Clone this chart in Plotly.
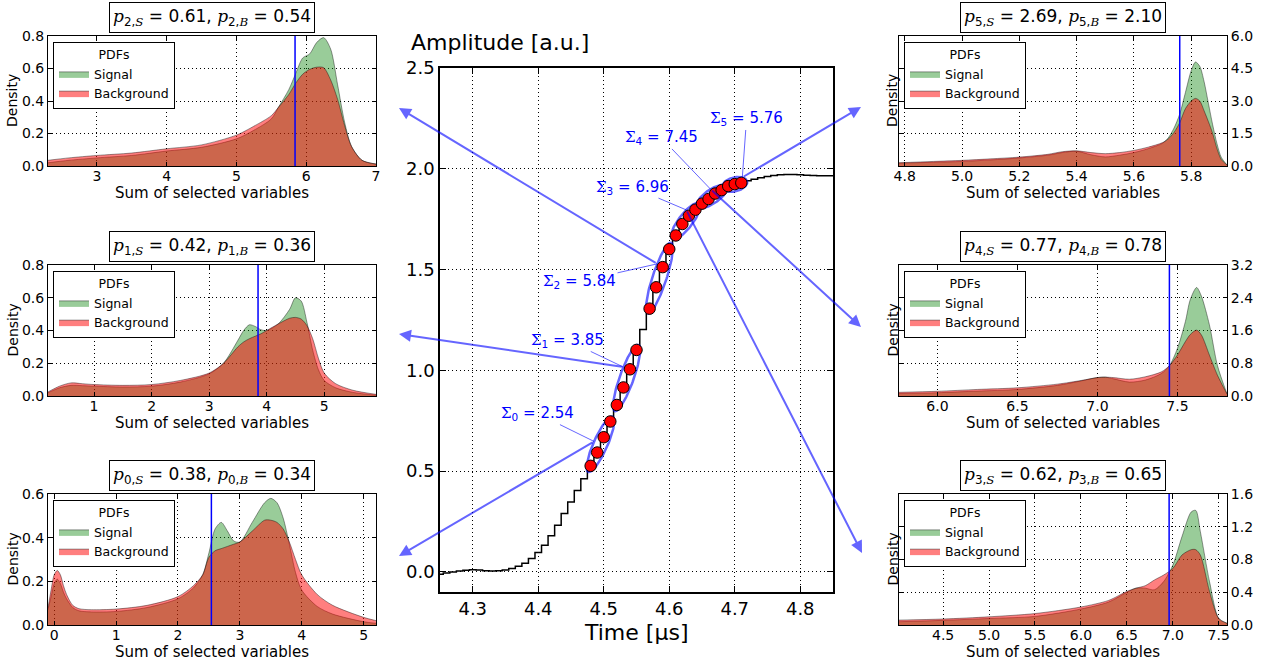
import math
import plotly.graph_objects as go

W, H = 1266, 664
FONT = "DejaVu Sans"

# ---------------- data: waveform (time in µs, amplitude in a.u.) ----------------
time_us = [4.25, 4.26, 4.27, 4.28, 4.29, 4.30, 4.31, 4.32, 4.33, 4.34,
           4.35, 4.36, 4.37, 4.38, 4.39, 4.40, 4.41, 4.42, 4.43, 4.44,
           4.45, 4.46, 4.47, 4.48, 4.49, 4.50, 4.51, 4.52, 4.53, 4.54,
           4.55, 4.56, 4.57, 4.58, 4.59, 4.60, 4.61, 4.62, 4.63, 4.64,
           4.65, 4.66, 4.67, 4.68, 4.69, 4.70, 4.71, 4.72, 4.73, 4.74,
           4.75, 4.76, 4.77, 4.78, 4.79, 4.80, 4.81, 4.82, 4.83, 4.84, 4.85]
amplitude = [-0.012, -0.006, -0.001, 0.004, 0.008, 0.010, 0.009, 0.006, 0.004, 0.005,
             0.009, 0.017, 0.028, 0.043, 0.066, 0.096, 0.132, 0.179, 0.231, 0.289,
             0.347, 0.404, 0.462, 0.526, 0.592, 0.668, 0.746, 0.828, 0.915, 1.005,
             1.101, 1.202, 1.306, 1.412, 1.512, 1.601, 1.669, 1.726, 1.767, 1.797,
             1.827, 1.850, 1.877, 1.894, 1.914, 1.924, 1.930, 1.940, 1.948, 1.956,
             1.962, 1.967, 1.970, 1.972, 1.972, 1.970, 1.968, 1.966, 1.965, 1.965, 1.965]

# selected sample groups and their sums / probabilities
group_times = [[4.48, 4.49, 4.50, 4.51],
               [4.52, 4.53, 4.54, 4.55],
               [4.57, 4.58, 4.59, 4.60],
               [4.61, 4.62, 4.63, 4.64],
               [4.65, 4.66, 4.67, 4.68],
               [4.69, 4.70, 4.71]]
sigma_vals = [2.54, 3.85, 5.84, 6.96, 7.45, 5.76]
p_signal = [0.38, 0.42, 0.61, 0.62, 0.77, 2.69]
p_background = [0.34, 0.36, 0.54, 0.65, 0.78, 2.10]

# ---------------- data: PDFs (sum of selected variables vs density) ----------------
sum0 = [-0.1, -0.05, 0.0, 0.05, 0.1, 0.15, 0.2, 0.3, 0.4, 0.6, 1.0, 1.5, 2.0, 2.25, 2.4, 2.5,
        2.6, 2.7, 2.8, 2.9, 3.0, 3.2, 3.4, 3.5, 3.6, 3.7, 3.8, 3.9, 4.0, 4.25, 4.5, 5.0, 5.2]
sig0 = [0.07, 0.13, 0.19, 0.21, 0.19, 0.15, 0.12, 0.08, 0.065, 0.06, 0.062, 0.08, 0.12, 0.17, 0.23, 0.33,
        0.44, 0.47, 0.43, 0.385, 0.38, 0.47, 0.56, 0.58, 0.56, 0.49, 0.37, 0.24, 0.16, 0.085, 0.05, 0.015, 0.008]
bkg0 = [0.08, 0.16, 0.23, 0.25, 0.23, 0.18, 0.14, 0.09, 0.075, 0.07, 0.073, 0.09, 0.13, 0.18, 0.23, 0.31,
        0.34, 0.35, 0.36, 0.37, 0.38, 0.43, 0.48, 0.48, 0.47, 0.44, 0.38, 0.30, 0.23, 0.14, 0.09, 0.035, 0.02]

sum1 = [0.2, 0.4, 0.6, 0.8, 1.0, 1.5, 2.0, 2.5, 3.0, 3.25, 3.5, 3.6, 3.7, 3.8, 3.9, 4.0,
        4.2, 4.4, 4.5, 4.6, 4.7, 4.8, 4.9, 5.0, 5.2, 5.5, 5.9]
sig1 = [0.02, 0.05, 0.065, 0.063, 0.06, 0.055, 0.06, 0.085, 0.135, 0.2, 0.34, 0.40, 0.435, 0.425, 0.405, 0.40,
        0.44, 0.53, 0.60, 0.58, 0.45, 0.28, 0.16, 0.095, 0.05, 0.022, 0.005]
bkg1 = [0.025, 0.06, 0.08, 0.075, 0.07, 0.065, 0.07, 0.095, 0.14, 0.2, 0.30, 0.33, 0.35, 0.365, 0.38, 0.40,
        0.44, 0.475, 0.48, 0.47, 0.43, 0.35, 0.23, 0.14, 0.075, 0.035, 0.01]

sum2 = [2.3, 2.6, 3.0, 3.5, 4.0, 4.5, 5.0, 5.25, 5.5, 5.6, 5.75, 5.85, 5.95, 6.05, 6.15, 6.25,
        6.35, 6.45, 6.55, 6.65, 6.8, 7.0]
sig2 = [0.02, 0.035, 0.05, 0.065, 0.092, 0.115, 0.167, 0.22, 0.29, 0.36, 0.47, 0.57, 0.665, 0.69, 0.76, 0.79,
        0.72, 0.50, 0.27, 0.12, 0.035, 0.012]
bkg2 = [0.035, 0.05, 0.065, 0.08, 0.106, 0.13, 0.19, 0.245, 0.31, 0.36, 0.44, 0.51, 0.565, 0.595, 0.608, 0.605,
        0.53, 0.41, 0.25, 0.12, 0.035, 0.012]

sum3 = [4.02, 4.5, 5.0, 5.5, 6.0, 6.3, 6.5, 6.6, 6.7, 6.8, 6.9, 7.0, 7.1, 7.2, 7.25, 7.3, 7.4, 7.5, 7.59]
sig3 = [0.04, 0.057, 0.08, 0.105, 0.195, 0.28, 0.40, 0.45, 0.45, 0.43, 0.53, 0.73, 1.08, 1.38, 1.40, 1.14, 0.53, 0.08, 0.02]
bkg3 = [0.06, 0.073, 0.10, 0.14, 0.22, 0.30, 0.41, 0.45, 0.48, 0.55, 0.61, 0.69, 0.855, 0.92, 0.92, 0.855, 0.41, 0.08, 0.02]

sum4 = [5.76, 6.0, 6.25, 6.5, 6.75, 6.9, 7.0, 7.05, 7.1, 7.2, 7.3, 7.4, 7.45, 7.5, 7.55, 7.58, 7.62, 7.65, 7.7, 7.75, 7.81]
sig4 = [0.06, 0.08, 0.12, 0.16, 0.26, 0.37, 0.45, 0.46, 0.42, 0.34, 0.39, 0.55, 0.74, 1.16, 1.82, 2.35, 2.65, 2.44, 1.74, 0.75, 0.05]
bkg4 = [0.09, 0.115, 0.16, 0.20, 0.29, 0.38, 0.45, 0.46, 0.45, 0.41, 0.47, 0.59, 0.74, 1.00, 1.33, 1.50, 1.61, 1.49, 1.00, 0.51, 0.05]

sum5 = [4.78, 4.9, 5.0, 5.1, 5.2, 5.3, 5.35, 5.4, 5.45, 5.5, 5.55, 5.6, 5.65, 5.7, 5.72, 5.74, 5.76,
        5.78, 5.8, 5.815, 5.83, 5.845, 5.86, 5.875, 5.89, 5.905, 5.925]
sig5 = [0.13, 0.17, 0.21, 0.28, 0.37, 0.50, 0.62, 0.68, 0.52, 0.42, 0.50, 0.62, 0.80, 1.05, 1.30, 1.75, 2.40,
        3.40, 4.40, 4.80, 4.60, 3.90, 2.90, 1.90, 1.03, 0.40, 0.05]
bkg5 = [0.15, 0.21, 0.26, 0.33, 0.41, 0.54, 0.66, 0.70, 0.62, 0.57, 0.62, 0.72, 0.87, 1.08, 1.25, 1.55, 2.00,
        2.65, 3.00, 3.12, 3.00, 2.55, 2.05, 1.50, 0.80, 0.30, 0.05]

pdf_sums = [sum0, sum1, sum2, sum3, sum4, sum5]
pdf_signal = [sig0, sig1, sig2, sig3, sig4, sig5]
pdf_background = [bkg0, bkg1, bkg2, bkg3, bkg4, bkg5]

# tick values
main_xticks = [4.3, 4.4, 4.5, 4.6, 4.7, 4.8]
main_yticks = [0.0, 0.5, 1.0, 1.5, 2.0, 2.5]
panel_xticks = [[0, 1, 2, 3, 4, 5], [1, 2, 3, 4, 5], [3, 4, 5, 6, 7],
                [4.5, 5.0, 5.5, 6.0, 6.5, 7.0, 7.5], [6.0, 6.5, 7.0, 7.5],
                [4.8, 5.0, 5.2, 5.4, 5.6, 5.8]]
panel_yticks = [[0.0, 0.2, 0.4, 0.6], [0.0, 0.2, 0.4, 0.6, 0.8], [0.0, 0.2, 0.4, 0.6, 0.8],
                [0.0, 0.4, 0.8, 1.2, 1.6], [0.0, 0.8, 1.6, 2.4, 3.2], [0.0, 1.5, 3.0, 4.5, 6.0]]
panel_xrange = [[-0.1, 5.2], [0.2, 5.9], [2.3, 7.0], [4.02, 7.59], [5.76, 7.81], [4.78, 5.925]]
panel_yrange = [[0, 0.6], [0, 0.8], [0, 0.8], [0, 1.6], [0, 3.2], [0, 6.0]]
panel_xfmt = ["d", "d", "d", ".1f", ".1f", ".1f"]

# ---------------- layout geometry (pixels) ----------------
MX0, MX1, MY0, MY1 = 440, 833, 68, 592
MXR, MYR = [4.25, 4.85], [-0.1, 2.5]
LEFT_X, RIGHT_X = (48, 376), (899, 1227)
ROW_Y = [(494, 625), (265, 396), (36, 166)]  # bottom, middle, top
panel_px = [(LEFT_X, ROW_Y[0]), (LEFT_X, ROW_Y[1]), (LEFT_X, ROW_Y[2]),
            (RIGHT_X, ROW_Y[0]), (RIGHT_X, ROW_Y[1]), (RIGHT_X, ROW_Y[2])]
arrow_heads = [(399, 556), (399, 334), (399, 108), (862, 553), (861, 327), (861, 107)]
anchor_angles = [90, 75, 70, 65, 80, 45]
label_pos = [(4.399, 0.785), (4.445, 1.148), (4.463, 1.441), (4.544, 1.909), (4.588, 2.153), (4.718, 2.247)]

BLUE_A = "rgba(0,0,255,0.6)"
GRID_DASH = "1px,3px"


def px_x(px):
    return px / W


def px_y(py):
    return 1 - py / H


def d2p(t, a):
    return (MX0 + (t - MXR[0]) / (MXR[1] - MXR[0]) * (MX1 - MX0),
            MY1 - (a - MYR[0]) / (MYR[1] - MYR[0]) * (MY1 - MY0))


def p2d(px, py):
    return (MXR[0] + (px - MX0) / (MX1 - MX0) * (MXR[1] - MXR[0]),
            MYR[0] + (MY1 - py) / (MY1 - MY0) * (MYR[1] - MYR[0]))


amp_of = {round(t, 2): a for t, a in zip(time_us, amplitude)}

fig = go.Figure()

# waveform (steps-mid)
fig.add_trace(go.Scatter(x=time_us, y=amplitude, mode="lines", line=dict(color="black", width=1.5, shape="hvh"),
                         showlegend=False, hoverinfo="skip", xaxis="x", yaxis="y"))

anchors_px = []
for gi, g in enumerate(group_times):
    pts = [d2p(t, amp_of[round(t, 2)]) for t in g]
    cx = sum(p[0] for p in pts) / len(pts)
    cy = sum(p[1] for p in pts) / len(pts)
    dx, dy = pts[-1][0] - pts[0][0], pts[-1][1] - pts[0][1]
    L = math.hypot(dx, dy)
    ux, uy = dx / L, dy / L
    vx, vy = uy, -ux
    a, b = L / 2 + 6, 7
    ex, ey = [], []
    for k in range(121):
        th = 2 * math.pi * k / 120
        px = cx + a * math.cos(th) * ux + b * math.sin(th) * vx
        py = cy + a * math.cos(th) * uy + b * math.sin(th) * vy
        t, am = p2d(px, py)
        ex.append(t)
        ey.append(am)
    fig.add_trace(go.Scatter(x=ex, y=ey, mode="lines", line=dict(color=BLUE_A, width=2.5),
                             showlegend=False, hoverinfo="skip", xaxis="x", yaxis="y"))
    phi = math.radians(anchor_angles[gi])
    anchors_px.append((cx + a * math.cos(phi) * ux + b * math.sin(phi) * vx,
                       cy + a * math.cos(phi) * uy + b * math.sin(phi) * vy))

sel_t = [t for g in group_times for t in g]
sel_a = [amp_of[round(t, 2)] for t in sel_t]
fig.add_trace(go.Scatter(x=sel_t, y=sel_a, mode="markers",
                         marker=dict(color="red", size=11.5, line=dict(color="black", width=1)),
                         showlegend=False, hoverinfo="skip", xaxis="x", yaxis="y"))

annotations = []
shapes = []

# main axes
axis_common = dict(showline=True, linecolor="black", mirror="ticks", ticks="inside",
                   showgrid=True, gridcolor="black", griddash=GRID_DASH, gridwidth=1, zeroline=False,
                   tickcolor="black", automargin=False)
layout = dict(
    template="none",
    width=W, height=H, margin=dict(l=0, r=0, t=0, b=0, pad=0, autoexpand=False),
    paper_bgcolor="white", plot_bgcolor="white",
    font=dict(family=FONT, color="black"),
    xaxis=dict(domain=[px_x(MX0), px_x(MX1)], range=MXR, tickvals=main_xticks, tickformat=".1f",
               anchor="y", linewidth=1.5, ticklen=6, tickfont=dict(size=18), **axis_common),
    yaxis=dict(domain=[px_y(MY1), px_y(MY0)], range=MYR, tickvals=main_yticks, tickformat=".1f",
               anchor="x", linewidth=1.5, ticklen=6, tickfont=dict(size=18), **axis_common),
)

annotations.append(dict(text="Amplitude [a.u.]", xref="paper", yref="paper", x=px_x(409), y=px_y(42),
                        xanchor="left", yanchor="middle", showarrow=False, font=dict(size=22)))
annotations.append(dict(text="Time [µs]", xref="paper", yref="paper", x=px_x(636), y=px_y(632),
                        xanchor="center", yanchor="middle", showarrow=False, font=dict(size=22)))


def mathit(s):
    return f'<span style="font-family:DejaVu Serif"><i>{s}</i></span>'


# side panels
for i in range(6):
    xa = f"x{i + 2}"
    ya = f"y{i + 2}"
    leg = "legend" if i == 0 else f"legend{i + 1}"
    (xl, xr), (yt, yb) = panel_px[i]
    right = i >= 3
    layout[f"xaxis{i + 2}"] = dict(domain=[px_x(xl), px_x(xr)], range=panel_xrange[i], tickvals=panel_xticks[i],
                                   tickformat=panel_xfmt[i], anchor=ya, linewidth=1, ticklen=4,
                                   ticklabelstandoff=-3, tickfont=dict(size=14), **axis_common)
    layout[f"yaxis{i + 2}"] = dict(domain=[px_y(yb), px_y(yt)], range=panel_yrange[i], tickvals=panel_yticks[i],
                                   tickformat=".1f", anchor=xa, side="right" if right else "left",
                                   linewidth=1, ticklen=4, tickfont=dict(size=14), **axis_common)
    fig.add_trace(go.Scatter(x=pdf_sums[i], y=pdf_signal[i], name="Signal", mode="lines", fill="tozeroy",
                             fillcolor="rgba(0,128,0,0.4)",
                             line=dict(color="rgba(0,0,0,0.4)", width=1, shape="spline", smoothing=0.8),
                             xaxis=xa, yaxis=ya, legend=leg, hoverinfo="skip"))
    fig.add_trace(go.Scatter(x=pdf_sums[i], y=pdf_background[i], name="Background", mode="lines", fill="tozeroy",
                             fillcolor="rgba(255,0,0,0.5)",
                             line=dict(color="rgba(0,0,0,0.4)", width=1, shape="spline", smoothing=0.8),
                             xaxis=xa, yaxis=ya, legend=leg, hoverinfo="skip"))
    layout[leg] = dict(x=px_x(xl + 5), y=px_y(yt + 6), xanchor="left", yanchor="top",
                       bgcolor="white", bordercolor="black", borderwidth=1,
                       font=dict(size=12.5, family=FONT, color="black"), tracegroupgap=0, itemwidth=30,
                       title=dict(text="PDFs", side="top center", font=dict(size=12.5, family=FONT)))
    shapes.append(dict(type="line", xref=xa, yref=f"{ya} domain", x0=sigma_vals[i], x1=sigma_vals[i],
                       y0=0, y1=1, line=dict(color="blue", width=1.5)))
    cx = (xl + xr) / 2
    annotations.append(dict(
        text=f"{mathit('p')}<sub>{i},{mathit('S')}</sub> = {p_signal[i]:.2f}, "
             f"{mathit('p')}<sub>{i},{mathit('B')}</sub> = {p_background[i]:.2f}",
        xref="paper", yref="paper", x=px_x(cx), y=px_y(yt - 3), xanchor="center", yanchor="bottom",
        showarrow=False, font=dict(size=17), bgcolor="white", bordercolor="black", borderwidth=1, borderpad=3))
    annotations.append(dict(text="Sum of selected variables", xref="paper", yref="paper", x=px_x(cx),
                            y=px_y(yb + 27), xanchor="center", yanchor="middle", showarrow=False,
                            font=dict(size=15)))
    annotations.append(dict(text="Density", xref="paper", yref="paper",
                            x=px_x(892 if right else 12), y=px_y((yt + yb) / 2), textangle=-90,
                            xanchor="center", yanchor="middle", showarrow=False, font=dict(size=14)))

# sigma labels and arrows
for gi in range(6):
    apx, apy = anchors_px[gi]
    at, aa = p2d(apx, apy)
    annotations.append(dict(
        text=f'<span style="font-family:DejaVu Serif">Σ</span><sub>{gi}</sub> = {sigma_vals[gi]:.2f}',
        xref="x", yref="y", x=at, y=aa, axref="x", ayref="y", ax=label_pos[gi][0], ay=label_pos[gi][1],
        showarrow=True, arrowhead=0, arrowwidth=1, arrowcolor=BLUE_A, font=dict(size=15, color="blue")))
    hx, hy = arrow_heads[gi]
    annotations.append(dict(text="", xref="paper", yref="paper", x=px_x(hx), y=px_y(hy),
                            ax=apx - hx, ay=apy - hy, showarrow=True, arrowhead=2, arrowsize=1.2,
                            arrowwidth=2, arrowcolor=BLUE_A, standoff=0, startstandoff=0))

layout["annotations"] = annotations
layout["shapes"] = shapes
fig.update_layout(**layout)
fig.write_html("out.html")
